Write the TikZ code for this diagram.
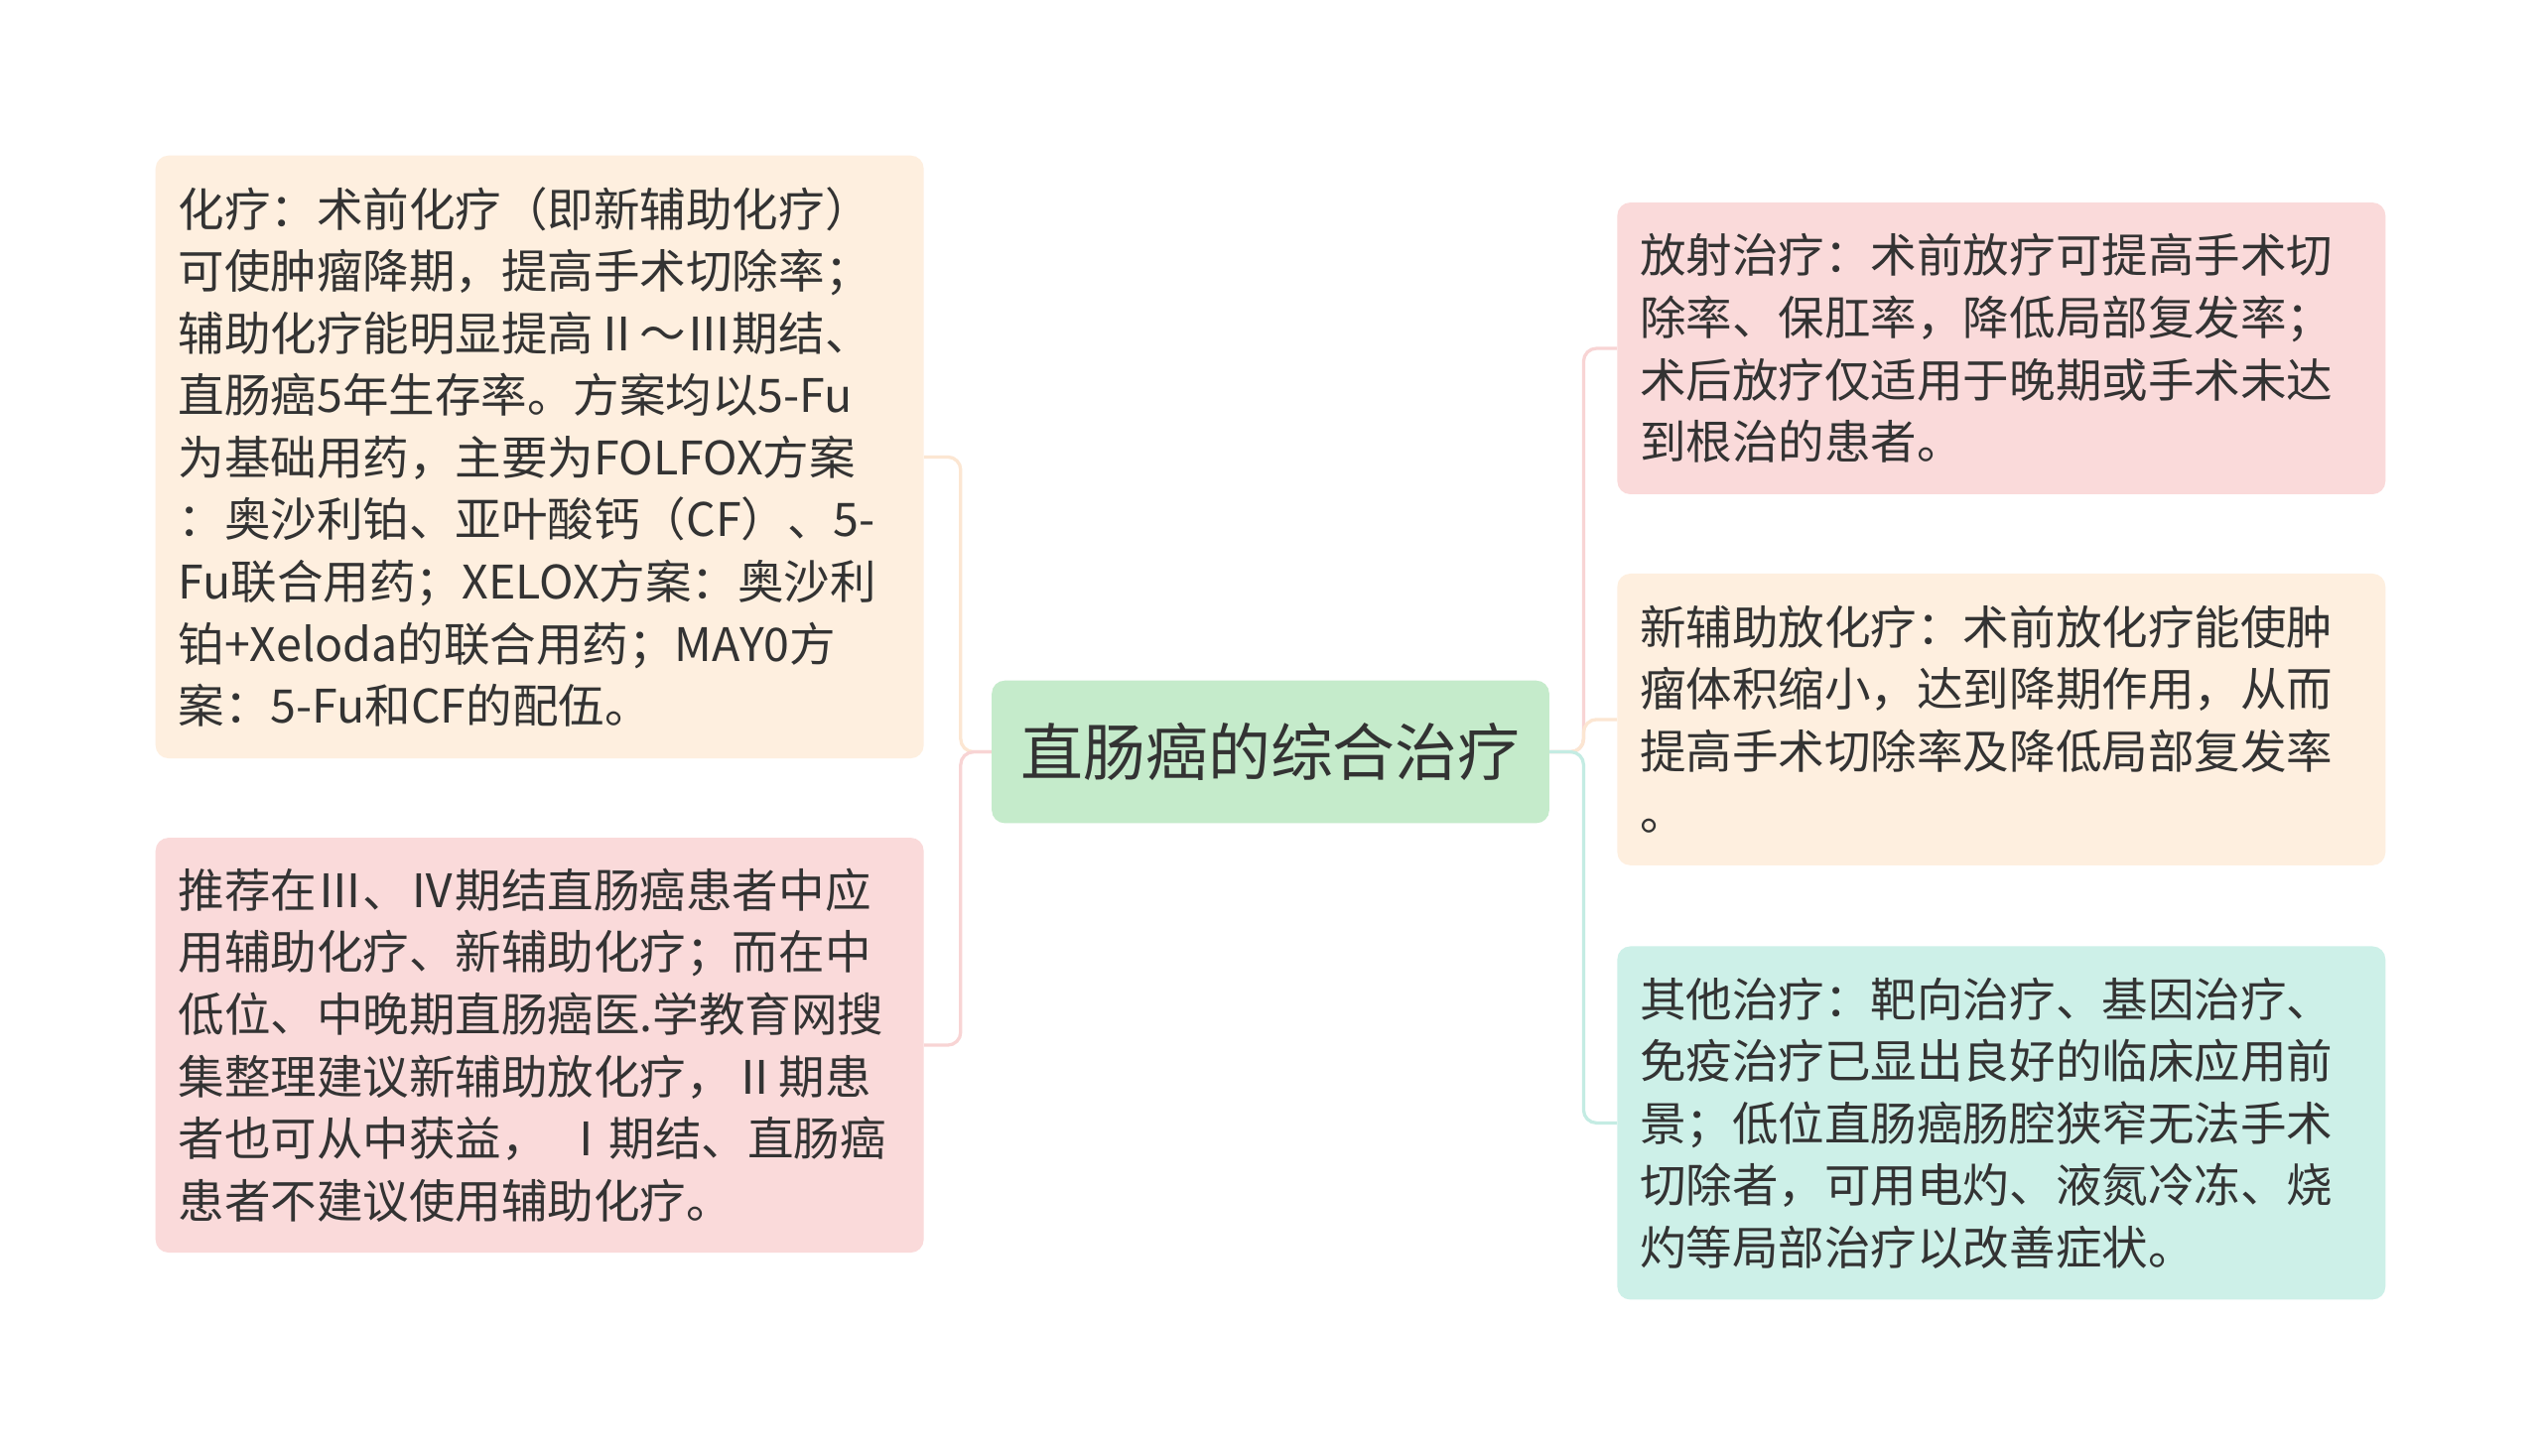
\documentclass[tikz,border=0pt]{standalone}
\usepackage{fontspec}
\setmainfont{Noto Sans CJK SC}
\usepackage{tikz}
\pgfdeclarelayer{background}
\pgfsetlayers{background,main}
\usetikzlibrary{positioning}
\exhyphenpenalty=10000
\definecolor{textgray}{HTML}{333333}
\definecolor{rootfill}{HTML}{C5EBCB}
\definecolor{creamfill}{HTML}{FEEFDF}
\definecolor{pinkfill}{HTML}{FADADA}
\definecolor{mintfill}{HTML}{CDF0E8}
\definecolor{creamline}{HTML}{FCE6D2}
\definecolor{pinkline}{HTML}{F8D4D4}
\definecolor{mintline}{HTML}{C4ECE3}
\tikzset{
  topic/.style={rounded corners=8pt,fill=rootfill,text=textgray,
    minimum width=344pt,minimum height=88pt,inner sep=0pt,
    font=\fontsize{38.5}{45}\selectfont},
  leaf/.style={rounded corners=8pt,text=textgray,align=left,
    text width=446pt,inner xsep=14pt,inner ysep=0pt,minimum width=474pt,
    font=\fontsize{28.5}{38.3}\selectfont}
}
\newcommand{\Leaf}[5]% pos, name, fill, height, text
{\node[leaf,fill=#3,minimum height=#4] (#2) at (#1) {#5};
}
\newcommand{\BranchL}[2]% leaf, colour
{ \begin{pgfonlayer}{background}
    \draw[#2,line width=2pt,rounded corners=8pt] (root.west) -- ++(-19,0) |- (#1.east);
  \end{pgfonlayer}
}
\newcommand{\BranchR}[2]% leaf, colour
{ \begin{pgfonlayer}{background}
    \draw[#2,line width=2pt,rounded corners=8pt] (root.east) -- ++(21,0) |- (#1.west);
  \end{pgfonlayer}
}

\begin{document}
\begin{tikzpicture}[x=1pt,y=-1pt]
  \begin{pgfonlayer}{background}
    \fill[white] (0,0) rectangle (1568,898.5);
  \end{pgfonlayer}
  \useasboundingbox (0,0) rectangle (1568,898.5);
  \node[topic] (root) at (784,464) {直肠癌的综合治疗};
  % left side
  \Leaf{333,282}{chemo}{creamfill}{372pt}{化疗：术前化疗（即新辅助化疗）\\
    可使肿瘤降期，提高手术切除率；\\
    辅助化疗能明显提高Ⅱ～Ⅲ期结、\\
    直肠癌5年生存率。方案均以5-Fu\\
    为基础用药，主要为FOLFOX方案\\
    ：奥沙利铂、亚叶酸钙（CF）、5-\\
    Fu联合用药；XELOX方案：奥沙利\\
    铂+Xeloda的联合用药；MAY0方\\
    案：5-Fu和CF的配伍。}
  \Leaf{333,645}{adjuvant}{pinkfill}{256pt}{推荐在Ⅲ、Ⅳ期结直肠癌患者中应\\
    用辅助化疗、新辅助化疗；而在中\\
    低位、中晚期直肠癌医.学教育网搜\\
    集整理建议新辅助放化疗，Ⅱ期患\\
    者也可从中获益， Ⅰ期结、直肠癌\\
    患者不建议使用辅助化疗。}
  % right side
  \Leaf{1235,215}{radio}{pinkfill}{180pt}{放射治疗：术前放疗可提高手术切\\
    除率、保肛率，降低局部复发率；\\
    术后放疗仅适用于晚期或手术未达\\
    到根治的患者。}
  \Leaf{1235,444}{neoadj}{creamfill}{180pt}{新辅助放化疗：术前放化疗能使肿\\
    瘤体积缩小，达到降期作用，从而\\
    提高手术切除率及降低局部复发率\\
    。}
  \Leaf{1235,693}{other}{mintfill}{218pt}{其他治疗：靶向治疗、基因治疗、\\
    免疫治疗已显出良好的临床应用前\\
    景；低位直肠癌肠腔狭窄无法手术\\
    切除者，可用电灼、液氮冷冻、烧\\
    灼等局部治疗以改善症状。}
  \BranchL{chemo}{creamline}
  \BranchL{adjuvant}{pinkline}
  \BranchR{radio}{pinkline}
  \BranchR{neoadj}{creamline}
  \BranchR{other}{mintline}
\end{tikzpicture}
\end{document}
